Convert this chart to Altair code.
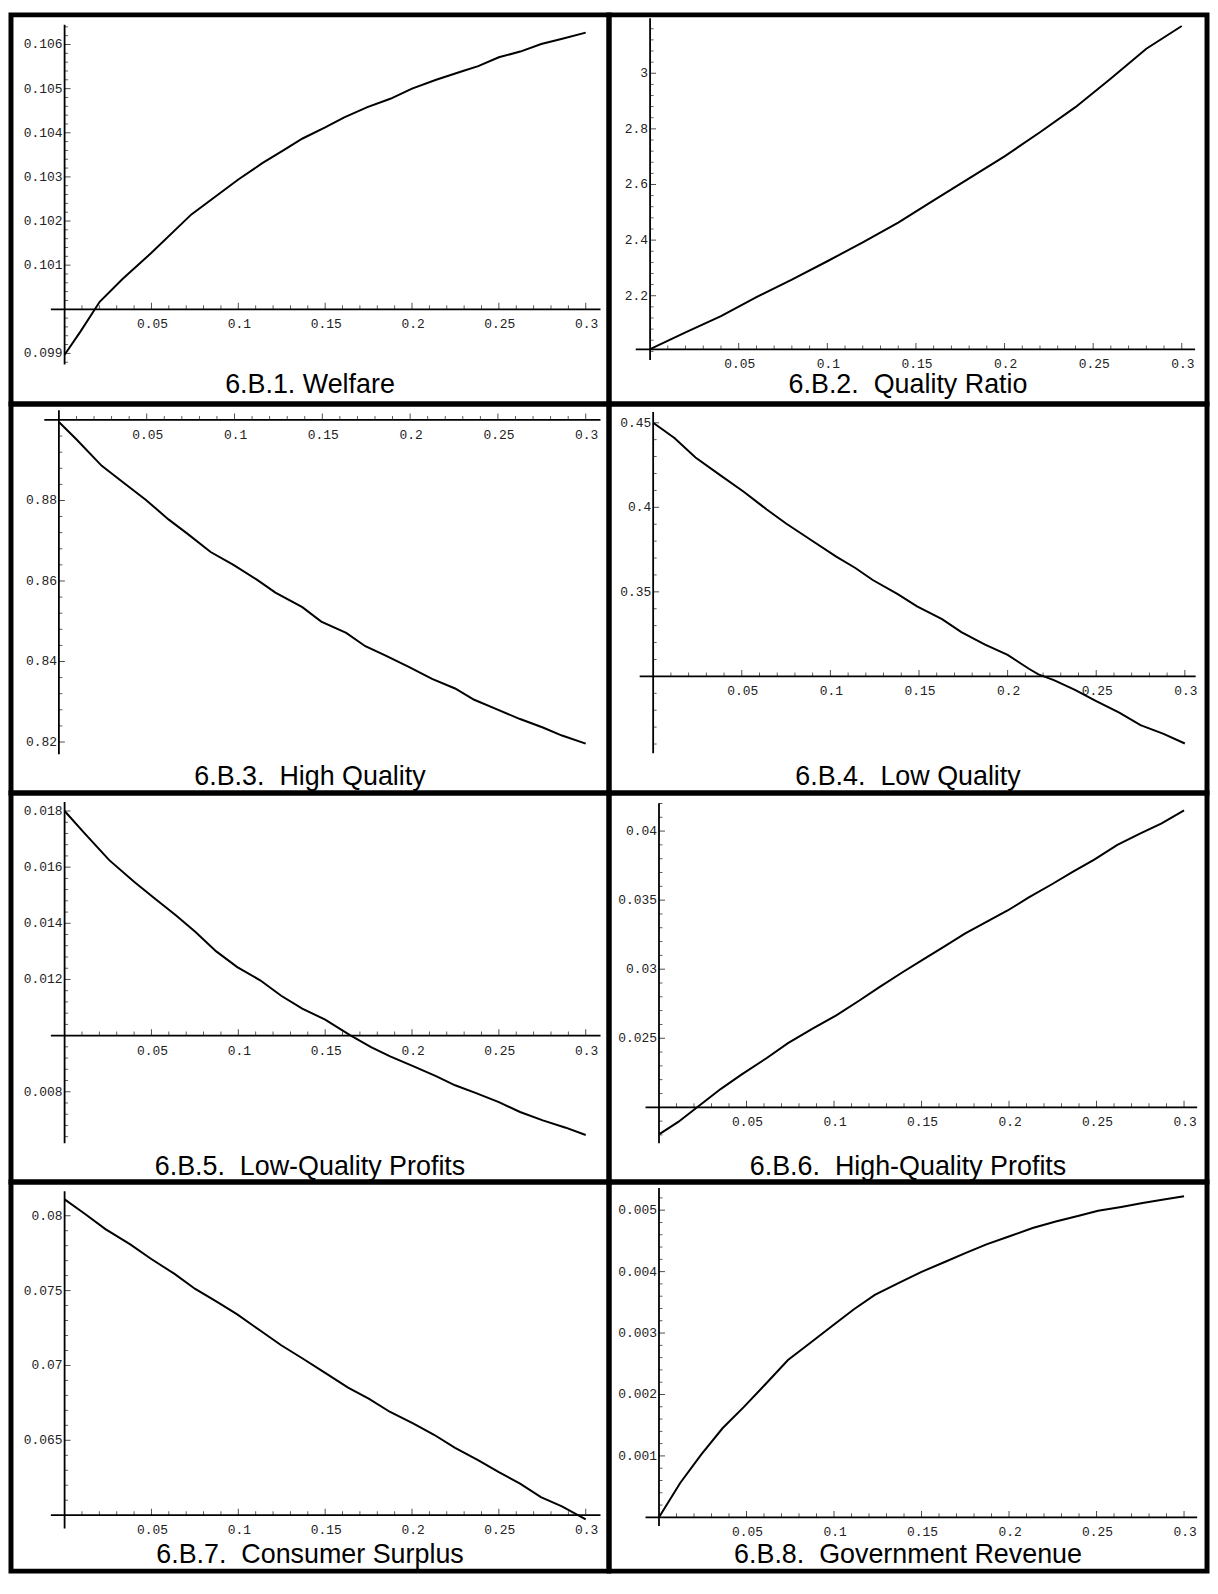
import altair as alt
import numpy as np
import pandas as pd

# ---------------- data ----------------
x_major = [0.05, 0.1, 0.15, 0.2, 0.25, 0.3]
x_major_labels = ["0.05", "0.1", "0.15", "0.2", "0.25", "0.3"]
x_minor_step = 0.01

captions = [
    "6.B.1. Welfare",
    "6.B.2.\u00a0 Quality Ratio",
    "6.B.3.\u00a0 High Quality",
    "6.B.4.\u00a0 Low Quality",
    "6.B.5.\u00a0 Low-Quality Profits",
    "6.B.6.\u00a0 High-Quality Profits",
    "6.B.7.\u00a0 Consumer Surplus",
    "6.B.8.\u00a0 Government Revenue",
]

welfare_x = [0, 0.0092, 0.0202, 0.0335, 0.05, 0.073, 0.0863, 0.1, 0.1138, 0.1259, 0.137, 0.15,
             0.161, 0.1743, 0.1875, 0.2, 0.2139, 0.2293, 0.2381, 0.25, 0.2623, 0.2744, 0.2865, 0.3]
welfare_y = [0.09897, 0.0995, 0.10017, 0.10069, 0.10128, 0.10215, 0.10254, 0.10294, 0.10331, 0.1036,
             0.10387, 0.10412, 0.10435, 0.10458, 0.10477, 0.105, 0.1052, 0.1054, 0.10551, 0.10571,
             0.10584, 0.10601, 0.10613, 0.10627]

ratio_x = [0, 0.02, 0.04, 0.06, 0.08, 0.1, 0.12, 0.14, 0.16, 0.18, 0.2, 0.22, 0.24, 0.26, 0.28, 0.3]
ratio_y = [2.008, 2.068, 2.127, 2.195, 2.258, 2.324, 2.392, 2.463, 2.543, 2.622, 2.701, 2.788,
           2.878, 2.981, 3.088, 3.170]

high_x = [0, 0.0102, 0.0244, 0.0363, 0.0494, 0.0624, 0.0733, 0.0864, 0.0994, 0.1125, 0.1233, 0.1386,
          0.1494, 0.1636, 0.1745, 0.1864, 0.1995, 0.2125, 0.2256, 0.2365, 0.2495, 0.2626, 0.2756,
          0.2865, 0.3]
high_y = [0.8995, 0.8951, 0.8886, 0.8846, 0.8802, 0.8753, 0.8717, 0.8672, 0.8640, 0.8604, 0.8571,
          0.8535, 0.8499, 0.8471, 0.8438, 0.8414, 0.8386, 0.8357, 0.8333, 0.8305, 0.8281, 0.8257,
          0.8236, 0.8216, 0.8196]

low_x = [0, 0.012, 0.0239, 0.038, 0.0511, 0.0641, 0.075, 0.088, 0.1033, 0.1141, 0.1239, 0.138, 0.1489,
         0.163, 0.1739, 0.187, 0.2, 0.212, 0.2174, 0.2261, 0.238, 0.25, 0.263, 0.275, 0.288, 0.3]
low_y = [0.45, 0.441, 0.4294, 0.4189, 0.4092, 0.3987, 0.3904, 0.3814, 0.3708, 0.3641, 0.3570, 0.3487,
         0.3414, 0.3339, 0.3262, 0.3189, 0.3127, 0.3045, 0.3012, 0.2978, 0.2920, 0.2853, 0.2785,
         0.2712, 0.2660, 0.2603]

lowprofit_x = [0, 0.0114, 0.0257, 0.04, 0.051, 0.0642, 0.0752, 0.0873, 0.0994, 0.1126, 0.1247, 0.1368,
               0.15, 0.1643, 0.1764, 0.1874, 0.2006, 0.2138, 0.2248, 0.2369, 0.25, 0.2622, 0.2753,
               0.2885, 0.3]
lowprofit_y = [0.018, 0.01721, 0.01625, 0.01548, 0.01493, 0.01428, 0.0137, 0.0130, 0.01244, 0.01197,
               0.01142, 0.01096, 0.01057, 0.01002, 0.00959, 0.00926, 0.00891, 0.00856, 0.00823,
               0.00795, 0.00763, 0.00728, 0.00698, 0.00672, 0.00646]

highprofit_x = [0, 0.011, 0.0231, 0.0352, 0.0473, 0.0616, 0.0737, 0.088, 0.1013, 0.1145, 0.1255,
                0.1387, 0.1508, 0.1629, 0.175, 0.1871, 0.1992, 0.2113, 0.2245, 0.2366, 0.2487,
                0.2619, 0.2751, 0.2872, 0.3]
highprofit_y = [0.01804, 0.01894, 0.02013, 0.02132, 0.02238, 0.02357, 0.02464, 0.02571, 0.02666,
                0.02773, 0.02867, 0.02974, 0.03069, 0.03164, 0.03259, 0.03342, 0.03425, 0.0352,
                0.03615, 0.03706, 0.03793, 0.039, 0.03983, 0.04055, 0.0415]

cs_x = [0, 0.0114, 0.0235, 0.0378, 0.0499, 0.0631, 0.0752, 0.0873, 0.0994, 0.1126, 0.1247, 0.1368,
        0.15, 0.1632, 0.1753, 0.1874, 0.2006, 0.2127, 0.2248, 0.238, 0.25, 0.2622, 0.2742, 0.2863, 0.3]
cs_y = [0.08109, 0.08015, 0.07911, 0.07809, 0.07711, 0.07613, 0.07511, 0.07428, 0.07341, 0.07233,
        0.07135, 0.07048, 0.0695, 0.06852, 0.06776, 0.06689, 0.06613, 0.06537, 0.0645, 0.06367,
        0.06287, 0.06211, 0.0612, 0.06059, 0.05972]

rev_x = [0, 0.0121, 0.0242, 0.0363, 0.0484, 0.0616, 0.0737, 0.0858, 0.0991, 0.1112, 0.1233, 0.1365,
         0.1497, 0.1629, 0.175, 0.1871, 0.2003, 0.2135, 0.2267, 0.2399, 0.2509, 0.2641, 0.2763,
         0.2884, 0.3]
rev_y = [0, 0.000559, 0.001025, 0.00145, 0.001794, 0.002191, 0.002562, 0.002827, 0.003119, 0.003384,
         0.003622, 0.003808, 0.003993, 0.004152, 0.0043, 0.004444, 0.004576, 0.004709, 0.004815,
         0.00491, 0.00499, 0.005053, 0.005117, 0.005175, 0.005228]

# y-axis tick values / labels
welfare_yt = [0.099, 0.101, 0.102, 0.103, 0.104, 0.105, 0.106]
welfare_yl = ["0.099", "0.101", "0.102", "0.103", "0.104", "0.105", "0.106"]
ratio_yt = [2.2, 2.4, 2.6, 2.8, 3.0]
ratio_yl = ["2.2", "2.4", "2.6", "2.8", "3"]
high_yt = [0.82, 0.84, 0.86, 0.88]
high_yl = ["0.82", "0.84", "0.86", "0.88"]
low_yt = [0.35, 0.4, 0.45]
low_yl = ["0.35", "0.4", "0.45"]
lowprofit_yt = [0.008, 0.012, 0.014, 0.016, 0.018]
lowprofit_yl = ["0.008", "0.012", "0.014", "0.016", "0.018"]
highprofit_yt = [0.025, 0.03, 0.035, 0.04]
highprofit_yl = ["0.025", "0.03", "0.035", "0.04"]
cs_yt = [0.065, 0.07, 0.075, 0.08]
cs_yl = ["0.065", "0.07", "0.075", "0.08"]
rev_yt = [0.001, 0.002, 0.003, 0.004, 0.005]
rev_yl = ["0.001", "0.002", "0.003", "0.004", "0.005"]

# ---------------- layout (axis geometry, calibrated on the reference page) ----------------
W, H = 601, 391
CAPTION_OFFSET = [-10.8, -8.5, -7.5, -8.0]   # per row
layout = [
    # frame (ref px), x=0 / x=0.3 px, two y calibrations, x-axis extent, y-axis extent, y origin, y minor step
    dict(frame=(3, 2, 612, 400), xcal=(57.6, 588.3), ycal=((0.106, 32.3), (0.099, 348.3)),
         xext=(-0.0079, 0.3085), yext=(0.09875, 0.10645), cross=0.1, ystep=0.0002),
    dict(frame=(612, 2, 1216, 400), xcal=(653.5, 1190.5), ycal=((3.0, 61.7), (2.2, 289.3)),
         xext=(-0.0081, 0.3075), yext=(1.969, 3.198), cross=2.007, ystep=0.04),
    dict(frame=(3, 400, 612, 799), xcal=(51.8, 588.3), ycal=((0.88, 499.0), (0.82, 746.7)),
         xext=(-0.0083, 0.3084), yext=(0.81695, 0.90242), cross=0.9, ystep=0.004),
    dict(frame=(612, 400, 1216, 799), xcal=(656.6, 1193.6), ycal=((0.45, 419.3), (0.35, 592.7)),
         xext=(-0.0076, 0.3061), yext=(0.2545, 0.4563), cross=0.3, ystep=0.01),
    dict(frame=(3, 799, 612, 1194.5), xcal=(57.6, 588.3), ycal=((0.018, 817.3), (0.008, 1102.7)),
         xext=(-0.0079, 0.3085), yext=(0.00617, 0.01832), cross=0.01, ystep=0.0004),
    dict(frame=(612, 799, 1216, 1194.5), xcal=(662.5, 1192.8), ycal=((0.04, 837.7), (0.025, 1048.3)),
         xext=(-0.0077, 0.3075), yext=(0.0174, 0.04202), cross=0.02, ystep=0.001),
    dict(frame=(3, 1194.5, 612, 1593), xcal=(57.6, 588.3), ycal=((0.08, 1229.0), (0.065, 1459.0)),
         xext=(-0.0079, 0.3085), yext=(0.05911, 0.08163), cross=0.06, ystep=0.001),
    dict(frame=(612, 1194.5, 1216, 1593), xcal=(662.5, 1192.8), ycal=((0.005, 1223.3), (0.001, 1475.0)),
         xext=(-0.0077, 0.3075), yext=(-0.00014, 0.00536), cross=0.0, ystep=0.0002),
]

series = [
    (welfare_x, welfare_y, welfare_yt, welfare_yl),
    (ratio_x, ratio_y, ratio_yt, ratio_yl),
    (high_x, high_y, high_yt, high_yl),
    (low_x, low_y, low_yt, low_yl),
    (lowprofit_x, lowprofit_y, lowprofit_yt, lowprofit_yl),
    (highprofit_x, highprofit_y, highprofit_yt, highprofit_yl),
    (cs_x, cs_y, cs_yt, cs_yl),
    (rev_x, rev_y, rev_yt, rev_yl),
]

LABEL_FONT = "Liberation Mono"
LABEL_SIZE = 13
LABEL_COLOR = "#222222"


def minor_ticks(lo, hi, step, skip):
    start = np.ceil(lo / step - 1e-6) * step
    out = []
    for v in np.arange(start, hi + 1e-12, step):
        v = round(float(v), 8)
        if v < lo or v > hi:
            continue
        if any(abs(v - s) < step * 0.05 for s in skip):
            continue
        out.append(v)
    return out


def make_panel(caption, xs, ys, yt, yl, lay, cap_offset):
    fx0, fy0, fx1, fy1 = lay["frame"]
    px0, px03 = lay["xcal"]
    (v1, py1), (v2, py2) = lay["ycal"]
    sx = (px03 - px0) / 0.3
    xl, xr = (fx0 - px0) / sx, (fx1 - px0) / sx
    sy = (py2 - py1) / (v1 - v2)
    ytop = v1 + (py1 - fy0) / sy
    ybot = v1 - (fy1 - py1) / sy

    xsc = alt.Scale(domain=[xl, xr], nice=False, zero=False, padding=0)
    ysc = alt.Scale(domain=[ybot, ytop], nice=False, zero=False, padding=0)

    def X(f):
        return alt.X(f"{f}:Q", scale=xsc, axis=None)

    def Y(f):
        return alt.Y(f"{f}:Q", scale=ysc, axis=None)

    c = lay["cross"]
    xe0, xe1 = lay["xext"]
    ye0, ye1 = lay["yext"]

    x_axis = alt.Chart(pd.DataFrame({"x0": [xe0], "x1": [xe1], "y": [c]})).mark_rule(
        color="black", strokeWidth=1.8).encode(x=X("x0"), x2="x1", y=Y("y"))
    y_axis = alt.Chart(pd.DataFrame({"x": [0.0], "y0": [ye0], "y1": [ye1]})).mark_rule(
        color="black", strokeWidth=1.8).encode(x=X("x"), y=Y("y0"), y2="y1")

    xmin = minor_ticks(0.005, 0.3, x_minor_step, x_major)
    ymin = minor_ticks(ye0, ye1, lay["ystep"], list(yt) + [c])

    xt_maj = alt.Chart(pd.DataFrame({"x": x_major, "y": [c] * len(x_major)})).mark_tick(
        orient="vertical", size=6.5, thickness=1, yOffset=-3.25, color="black").encode(x=X("x"), y=Y("y"))
    xt_min = alt.Chart(pd.DataFrame({"x": xmin, "y": [c] * len(xmin)})).mark_tick(
        orient="vertical", size=4, thickness=0.9, yOffset=-2, color="black").encode(x=X("x"), y=Y("y"))
    yt_maj = alt.Chart(pd.DataFrame({"x": [0.0] * len(yt), "y": yt})).mark_tick(
        orient="horizontal", size=6, thickness=1, xOffset=3, color="black").encode(x=X("x"), y=Y("y"))
    yt_min = alt.Chart(pd.DataFrame({"x": [0.0] * len(ymin), "y": ymin})).mark_tick(
        orient="horizontal", size=3.5, thickness=0.9, xOffset=1.75, color="black").encode(x=X("x"), y=Y("y"))

    x_lab = alt.Chart(pd.DataFrame({"x": x_major, "y": [c] * len(x_major), "t": x_major_labels})).mark_text(
        font=LABEL_FONT, fontSize=LABEL_SIZE, color=LABEL_COLOR, dy=15, dx=1,
        align="center", baseline="middle").encode(x=X("x"), y=Y("y"), text="t:N")
    y_lab = alt.Chart(pd.DataFrame({"x": [0.0] * len(yt), "y": yt, "t": yl})).mark_text(
        font=LABEL_FONT, fontSize=LABEL_SIZE, color=LABEL_COLOR, dx=-2,
        align="right", baseline="middle").encode(x=X("x"), y=Y("y"), text="t:N")

    curve = alt.Chart(pd.DataFrame({"x": xs, "y": ys})).mark_line(
        color="black", strokeWidth=2).encode(x=X("x"), y=Y("y"))

    return alt.layer(
        x_axis, y_axis, xt_maj, xt_min, yt_maj, yt_min, x_lab, y_lab, curve,
        title=alt.TitleParams(
            text=caption, orient="bottom", anchor="middle", offset=cap_offset,
            font="Liberation Sans", fontSize=27, fontWeight="normal", color="black",
            baseline="alphabetic"),
    ).properties(width=W, height=H)


panels = [make_panel(captions[i], *series[i], layout[i], CAPTION_OFFSET[i // 2]) for i in range(8)]

chart = alt.concat(*panels, columns=2, spacing=0, bounds="flush").properties(
    padding=0, background="white"
).configure_view(stroke="black", strokeWidth=5)

chart.save("out.html", embed_options={"renderer": "svg", "actions": False})
